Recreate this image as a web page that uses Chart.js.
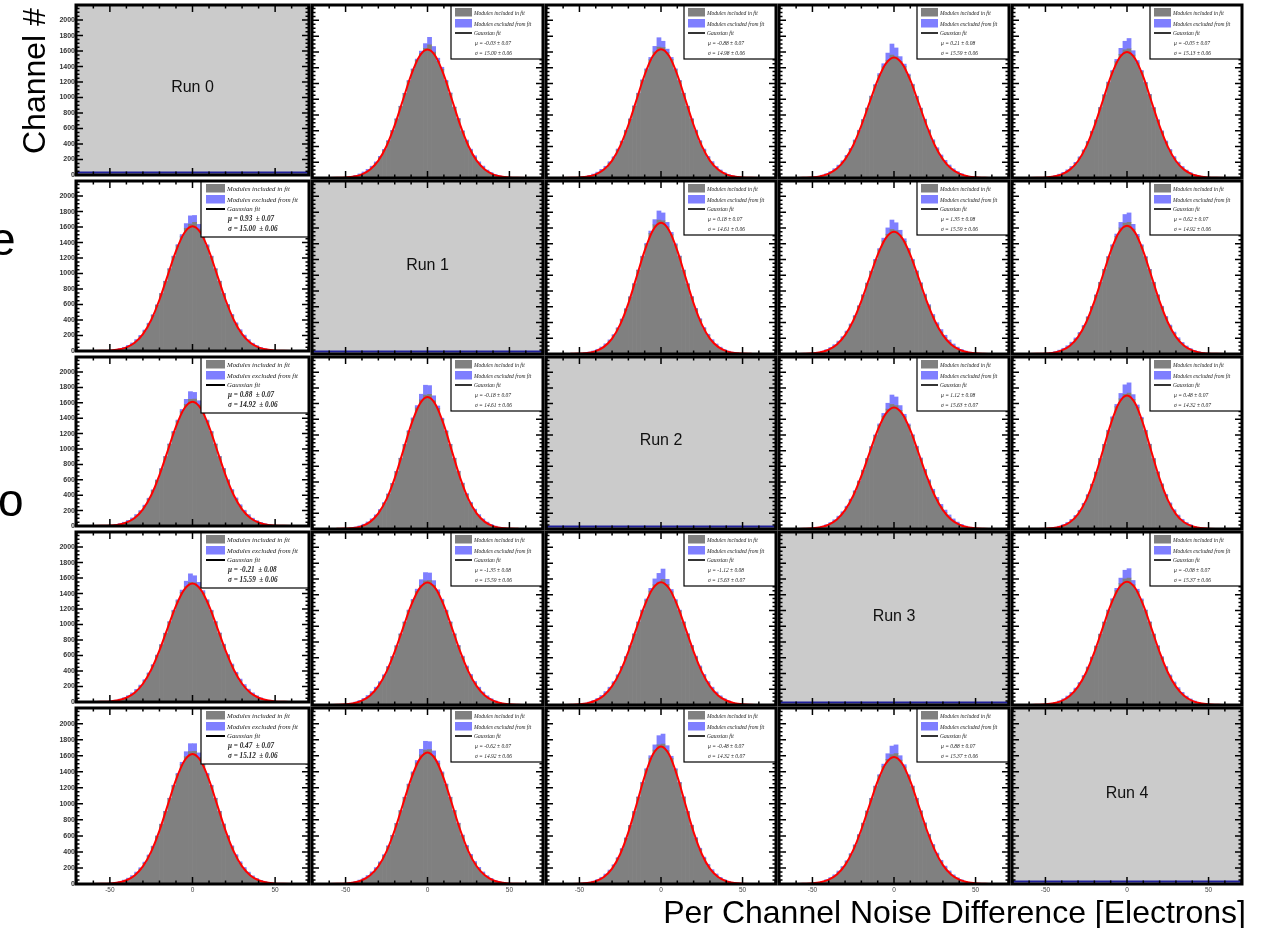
<!DOCTYPE html>
<html>
<head>
<meta charset="utf-8">
<script src="https://cdn.jsdelivr.net/npm/chart.js@4.4.1/dist/chart.umd.min.js"></script>
<style>
body { margin: 0; background: #fff; width: 1268px; height: 928px; overflow: hidden; position: relative; font-family: "Liberation Sans", Arial, sans-serif; }
canvas { position: absolute; }
.lbl { position: absolute; white-space: nowrap; color: #000; font-size: 32px; line-height: 32px; z-index: 10; }
</style>
</head>
<body>
<div class="lbl" style="left:18px;top:154px;transform-origin:0 0;transform:rotate(-90deg)">Channel #</div>
<div class="lbl" style="right:22px;top:896px">Per Channel Noise Difference [Electrons]</div>
<div class="lbl" style="left:-10px;top:216px;font-size:46px;line-height:46px">e</div>
<div class="lbl" style="left:-2px;top:477px;font-size:46px;line-height:46px">o</div>
<script>
// ---- data ----
const runNames = ['Run 0', 'Run 1', 'Run 2', 'Run 3', 'Run 4'];
const xTickLabels = [-50, 0, 50];
const yTickLabels = [0, 200, 400, 600, 800, 1000, 1200, 1400, 1600, 1800, 2000];
const binCenters = [-48.75,-46.25,-43.75,-41.25,-38.75,-36.25,-33.75,-31.25,-28.75,-26.25,-23.75,-21.25,-18.75,-16.25,-13.75,-11.25,-8.75,-6.25,-3.75,-1.25,
                    1.25,3.75,6.25,8.75,11.25,13.75,16.25,18.75,21.25,23.75,26.25,28.75,31.25,33.75,36.25,38.75,41.25,43.75,46.25,48.75];
const fitX = [-70,-65,-60,-55,-50,-45,-40,-35,-30,-25,-20,-15,-10,-5,0,5,10,15,20,25,30,35,40,45,50,55,60,65,70];

// row 0
const inc01 = [8,15,24,38,59,88,130,186,260,352,466,597,746,906,1070,1230,1374,1494,1580,1645,1690,1598,1480,1380,1228,1072,895,748,590,468,348,262,183,131,85,57,36,22,13,7];
const exc01 = [3,6,10,14,18,22,20,18,15,12,10,8,6,5,5,8,10,15,30,60,95,70,40,25,12,8,6,8,10,14,18,20,22,20,16,12,8,5,3,2];
const fit01 = [0,0,0,2,7,18,47,108,220,406,670,989,1306,1542,1630,1542,1306,989,670,406,220,108,47,18,7,2,0,0,0];
const inc02 = [9,14,23,38,58,90,127,188,255,356,460,600,745,910,1068,1236,1372,1500,1600,1660,1655,1590,1505,1372,1230,1070,905,745,598,462,352,256,188,128,88,58,37,23,14,8];
const exc02 = [2,5,8,12,16,20,22,18,14,12,9,7,6,6,8,10,14,30,70,120,80,45,25,14,8,6,6,8,10,12,15,18,20,18,14,10,7,5,3,2];
const fit02 = [0,0,0,2,7,18,47,108,221,407,672,992,1310,1547,1635,1547,1310,992,672,407,221,108,47,18,7,2,0,0,0];
const inc03 = [11,18,29,44,67,100,143,200,273,364,473,598,736,883,1032,1175,1305,1410,1495,1560,1540,1480,1415,1300,1180,1030,880,738,600,470,366,270,200,143,99,67,44,28,18,11];
const exc03 = [2,4,7,10,14,18,20,18,15,12,10,8,6,6,8,12,20,40,90,140,110,60,30,18,10,8,7,9,12,15,18,22,24,22,18,14,10,6,4,2];
const fit03 = [0,0,0,3,8,23,55,119,236,416,666,958,1242,1452,1530,1452,1242,958,666,416,236,119,55,23,8,3,0,0,0];
const inc04 = [8,14,23,37,57,86,127,183,255,346,457,587,733,890,1051,1208,1350,1475,1570,1625,1640,1560,1460,1350,1205,1055,888,732,588,456,346,254,182,128,86,57,36,23,14,8];
const exc04 = [2,5,8,12,15,18,20,16,14,12,9,7,5,5,7,10,15,30,75,110,130,55,30,15,9,6,6,8,10,13,16,18,20,18,15,11,7,5,3,2];
const fit04 = [0,0,0,2,6,18,46,106,216,398,658,971,1282,1514,1600,1514,1282,971,658,398,216,106,46,18,6,2,0,0,0];
// row 1
const inc10 = [8,14,23,37,58,86,128,184,257,348,460,590,738,896,1058,1216,1360,1478,1585,1640,1660,1575,1478,1356,1216,1058,896,737,591,460,348,256,184,128,86,58,37,23,14,8];
const exc10 = [2,5,8,11,15,18,20,18,14,11,9,7,5,5,6,9,14,25,60,105,90,60,30,15,9,6,6,8,10,13,16,19,21,19,15,11,8,5,3,2];
const fit10 = [0,0,0,2,6,18,47,106,217,401,662,977,1290,1523,1610,1523,1290,977,662,401,217,106,47,18,6,2,0,0,0];
const inc12 = [6,11,18,29,47,73,111,163,233,323,436,569,722,888,1061,1232,1390,1530,1640,1700,1690,1615,1515,1385,1235,1060,886,722,570,436,322,234,163,110,73,47,29,18,11,6];
const exc12 = [2,4,7,10,13,16,18,16,13,11,8,6,5,5,6,9,14,30,65,115,100,55,28,14,8,6,6,7,9,12,14,17,19,17,14,10,7,5,3,2];
const fit12 = [0,0,0,2,5,13,37,90,196,376,643,976,1312,1568,1665,1568,1312,976,643,376,196,90,37,13,5,2,0,0,0];
const inc13 = [11,18,29,45,68,101,145,203,277,369,479,606,746,895,1046,1191,1322,1435,1520,1580,1565,1510,1430,1322,1190,1046,895,748,610,482,372,280,206,148,103,69,46,29,18,11];
const exc13 = [2,4,7,10,14,17,19,17,14,12,9,7,6,6,7,10,16,35,80,120,100,60,32,18,12,10,10,12,16,20,25,30,32,30,24,18,12,8,5,3];
const fit13 = [0,0,0,3,9,23,56,121,239,422,674,970,1259,1471,1550,1471,1259,970,674,422,239,121,56,23,9,3,0,0,0];
const inc14 = [8,14,23,37,58,87,130,186,259,351,465,597,745,905,1069,1229,1373,1492,1600,1660,1670,1585,1490,1372,1228,1068,904,744,596,464,351,259,186,129,87,58,37,23,14,8];
const exc14 = [2,5,8,12,15,18,20,18,15,12,9,7,6,5,6,9,14,30,70,110,120,60,28,15,9,6,6,8,10,13,16,19,20,18,15,11,8,5,3,2];
const fit14 = [0,0,0,2,6,17,46,106,218,403,667,986,1303,1540,1628,1540,1303,986,667,403,218,106,46,17,6,2,0,0,0];
// row 2
const inc20 = [8,14,23,37,58,87,129,184,257,349,461,592,740,898,1061,1220,1362,1485,1580,1645,1650,1572,1482,1362,1220,1061,898,740,592,461,349,257,184,129,87,58,37,23,14,8];
const exc20 = [2,5,8,12,15,18,20,17,14,12,9,7,5,5,6,9,14,28,65,100,85,55,28,14,9,6,6,8,10,13,16,19,21,19,15,11,8,5,3,2];
const fit20 = [0,0,0,2,6,17,46,105,216,399,661,978,1292,1527,1615,1527,1292,978,661,399,216,105,46,17,6,2,0,0,0];
const inc21 = [6,11,18,30,48,74,112,165,236,327,441,576,730,899,1074,1247,1404,1545,1650,1710,1720,1640,1540,1400,1247,1075,898,731,577,441,327,236,165,112,74,48,30,18,11,6];
const exc21 = [2,4,7,10,13,16,18,16,13,11,8,6,5,5,6,9,14,30,70,125,110,60,30,14,8,6,6,7,9,12,14,17,19,17,14,10,7,5,3,2];
const fit21 = [0,0,0,2,5,13,37,91,199,381,650,987,1328,1587,1685,1587,1328,987,650,381,199,91,37,13,5,2,0,0,0];
const inc23 = [11,18,29,45,68,101,145,203,277,369,479,606,746,895,1046,1191,1325,1440,1530,1590,1575,1515,1432,1322,1192,1047,896,748,610,484,375,282,208,150,104,70,46,29,18,11];
const exc23 = [2,4,7,10,14,17,19,17,14,12,9,7,6,6,7,10,16,35,75,120,110,60,32,18,12,10,11,14,18,23,28,32,34,30,25,18,12,8,5,3];
const fit23 = [0,0,0,3,9,24,57,122,241,424,677,973,1261,1472,1550,1472,1261,973,677,424,241,122,57,24,9,3,0,0,0];
const inc24 = [5,9,16,27,44,69,106,158,227,318,431,567,723,895,1075,1252,1418,1560,1660,1720,1735,1655,1555,1412,1252,1076,894,724,568,430,318,228,158,106,69,44,27,16,9,5];
const exc24 = [2,4,6,9,12,15,17,15,12,10,8,6,5,5,6,9,14,30,70,120,130,60,28,14,8,6,6,7,9,12,15,18,20,18,14,10,7,5,3,2];
const fit24 = [0,0,0,1,4,12,35,86,190,372,643,985,1336,1604,1705,1604,1336,985,643,372,190,86,35,12,4,1,0,0,0];
// row 3
const inc30 = [11,18,29,44,67,100,143,200,273,364,473,598,736,883,1032,1175,1305,1415,1490,1545,1540,1490,1408,1305,1175,1032,884,737,600,474,365,274,201,144,100,67,44,29,18,11];
const exc30 = [3,5,8,11,15,18,20,18,15,12,10,8,6,6,7,10,15,30,70,110,90,55,30,16,10,8,8,10,13,16,19,22,24,22,18,13,9,6,4,2];
const fit30 = [0,0,0,3,8,23,55,119,236,416,666,958,1242,1452,1530,1452,1242,958,666,416,236,119,55,23,8,3,0,0,0];
const inc31 = [11,18,29,45,68,101,146,204,278,370,480,608,748,898,1049,1195,1326,1440,1520,1575,1580,1520,1432,1326,1194,1049,898,748,608,480,370,278,204,145,101,68,45,29,18,11];
const exc31 = [3,5,8,12,16,20,24,22,18,14,10,8,6,6,7,10,15,30,70,105,95,58,30,16,10,7,7,9,12,15,18,20,22,20,16,12,8,5,3,2];
const fit31 = [0,0,0,3,9,23,56,121,239,423,676,973,1263,1476,1555,1476,1263,973,676,423,239,121,56,23,9,3,0,0,0];
const inc32 = [11,18,29,45,68,101,146,204,278,370,480,608,748,898,1049,1195,1330,1445,1525,1560,1595,1530,1436,1322,1194,1049,898,748,608,480,370,278,204,145,101,68,45,29,18,11];
const exc32 = [3,5,8,12,16,20,24,22,18,14,10,8,6,6,7,10,15,35,75,110,130,65,30,16,10,7,7,9,12,15,18,20,22,20,16,12,8,5,3,2];
const fit32 = [0,0,0,3,9,24,57,122,240,424,678,975,1265,1478,1558,1478,1265,975,678,424,240,122,57,24,9,3,0,0,0];
const inc34 = [10,17,27,43,65,97,141,198,272,364,474,602,744,895,1049,1197,1335,1450,1540,1600,1610,1525,1441,1331,1197,1049,895,744,602,474,364,272,198,141,97,65,43,27,17,10];
const exc34 = [2,4,7,10,14,17,19,17,14,11,9,7,6,5,6,9,14,30,70,110,120,55,28,15,9,7,7,9,11,14,17,20,22,20,16,12,8,5,3,2];
const fit34 = [0,0,0,3,8,22,53,117,233,416,671,972,1266,1484,1565,1484,1266,972,671,416,233,117,53,22,8,3,0,0,0];
// row 4
const inc40 = [8,14,23,37,58,87,129,185,258,350,463,594,742,901,1064,1223,1366,1490,1590,1650,1655,1580,1488,1366,1223,1064,901,742,594,463,350,258,185,129,87,58,37,23,14,8];
const exc40 = [2,5,8,12,15,18,20,18,15,12,9,7,5,5,6,9,14,28,60,100,95,55,28,14,9,6,6,8,10,13,16,19,21,19,15,11,8,5,3,2];
const fit40 = [0,0,0,2,6,18,47,107,219,403,666,983,1298,1533,1620,1533,1298,983,666,403,219,107,47,18,6,2,0,0,0];
const inc41 = [8,14,23,37,59,88,131,187,261,354,469,601,751,912,1077,1238,1385,1510,1610,1670,1675,1600,1505,1383,1238,1077,912,751,601,469,354,261,187,131,88,59,37,23,14,8];
const exc41 = [2,5,8,12,15,18,20,18,15,12,9,7,5,5,6,9,14,30,70,110,100,60,30,15,9,6,6,8,10,13,16,19,21,19,15,11,8,5,3,2];
const fit41 = [0,0,0,2,6,18,47,108,221,407,673,994,1312,1551,1640,1551,1312,994,673,407,221,108,47,18,6,2,0,0,0];
const inc42 = [5,9,16,27,44,69,107,159,228,320,434,570,727,900,1081,1260,1425,1570,1670,1735,1745,1665,1565,1425,1260,1082,900,727,570,434,320,228,159,107,69,44,27,16,9,5];
const exc42 = [2,4,6,9,12,15,17,15,12,10,8,6,5,5,6,9,14,30,65,115,125,60,28,14,8,6,6,7,9,12,15,18,20,18,14,10,7,5,3,2];
const fit42 = [0,0,0,1,4,12,35,87,191,374,647,991,1344,1614,1715,1614,1344,991,647,374,191,87,35,12,4,1,0,0,0];
const inc43 = [10,17,27,44,66,98,143,201,276,369,480,610,754,907,1063,1213,1350,1465,1555,1615,1625,1545,1460,1348,1213,1063,907,754,610,480,369,276,201,143,98,66,44,27,17,10];
const exc43 = [2,4,7,10,14,17,19,17,14,11,9,7,6,5,6,9,14,30,70,105,110,55,28,15,9,7,7,9,11,14,17,20,22,20,16,12,8,5,3,2];
const fit43 = [0,0,0,3,8,22,54,119,236,422,680,984,1282,1503,1585,1503,1282,984,680,422,236,119,54,22,8,3,0,0,0];

// which panel uses which arrays
const offDiagonal = [[0,1],[0,2],[0,3],[0,4],[1,0],[1,2],[1,3],[1,4],[2,0],[2,1],[2,3],[2,4],[3,0],[3,1],[3,2],[3,4],[4,0],[4,1],[4,2],[4,3]];
const included = [inc01,inc02,inc03,inc04,inc10,inc12,inc13,inc14,inc20,inc21,inc23,inc24,inc30,inc31,inc32,inc34,inc40,inc41,inc42,inc43];
const excluded = [exc01,exc02,exc03,exc04,exc10,exc12,exc13,exc14,exc20,exc21,exc23,exc24,exc30,exc31,exc32,exc34,exc40,exc41,exc42,exc43];
const fitCurves = [fit01,fit02,fit03,fit04,fit10,fit12,fit13,fit14,fit20,fit21,fit23,fit24,fit30,fit31,fit32,fit34,fit40,fit41,fit42,fit43];
const muLabels = ['μ = -0.03 ± 0.07','μ = -0.88 ± 0.07','μ = 0.21 ± 0.08','μ = -0.05 ± 0.07',
                  'μ = 0.93  ± 0.07','μ = 0.18 ± 0.07','μ = 1.35 ± 0.08','μ = 0.62 ± 0.07',
                  'μ = 0.88  ± 0.07','μ = -0.18 ± 0.07','μ = 1.12 ± 0.08','μ = 0.48 ± 0.07',
                  'μ = -0.21  ± 0.08','μ = -1.35 ± 0.08','μ = -1.12 ± 0.08','μ = -0.08 ± 0.07',
                  'μ = 0.47  ± 0.07','μ = -0.62 ± 0.07','μ = -0.48 ± 0.07','μ = 0.88 ± 0.07'];
const sigmaLabels = ['σ = 15.00 ± 0.06','σ = 14.98 ± 0.06','σ = 15.59 ± 0.06','σ = 15.13 ± 0.06',
                     'σ = 15.00  ± 0.06','σ = 14.61 ± 0.06','σ = 15.59 ± 0.06','σ = 14.92 ± 0.06',
                     'σ = 14.92  ± 0.06','σ = 14.61 ± 0.06','σ = 15.63 ± 0.07','σ = 14.32 ± 0.07',
                     'σ = 15.59  ± 0.06','σ = 15.59 ± 0.06','σ = 15.63 ± 0.07','σ = 15.37 ± 0.06',
                     'σ = 15.12  ± 0.06','σ = 14.92 ± 0.06','σ = 14.32 ± 0.07','σ = 15.37 ± 0.06'];

const histGray = '#808080';
const histBlue = '#7f7fff';
const fitRed = '#ff0000';
const sansFont = '"Liberation Sans", Arial, sans-serif';
const serifFont = '"Liberation Serif", "Times New Roman", serif';

// panel grid edges in page pixels
const colEdge = k => Math.round(76 + 233.25 * k);
const rowEdge = k => Math.round(5 + 175.75 * k);

function drawLegend(ctx, a, big, mu, sigma) {
    const bw = big ? 108 : 92, bh = big ? 56 : 54;
    const bx = a.right - bw, by = a.top;
    const sx = bx + (big ? 5 : 4), sw = big ? 19 : 17;
    const tx = bx + (big ? 26 : 23);
    const f = big ? 6.8 : 5.5;
    ctx.fillStyle = '#fff';
    ctx.fillRect(bx, by, bw, bh);
    ctx.strokeStyle = '#000';
    ctx.lineWidth = 1.2;
    ctx.strokeRect(bx, by, bw, bh);
    ctx.fillStyle = histGray;
    ctx.fillRect(sx, by + 3, sw, 8.5);
    ctx.fillStyle = histBlue;
    ctx.fillRect(sx, by + 14, sw, 8.5);
    ctx.lineWidth = big ? 2 : 1.6;
    ctx.beginPath();
    ctx.moveTo(sx, by + 28);
    ctx.lineTo(sx + sw, by + 28);
    ctx.stroke();
    ctx.fillStyle = '#222';
    ctx.textAlign = 'left';
    ctx.textBaseline = 'alphabetic';
    ctx.font = 'italic ' + f + 'px ' + serifFont;
    ctx.fillText('Modules included in fit', tx, by + 9.5);
    ctx.fillText('Modules excluded from fit', tx, by + 20.5);
    ctx.fillText('Gaussian fit', tx, by + 30);
    ctx.font = (big ? 'italic bold 7.2px ' : 'italic 5.5px ') + serifFont;
    ctx.fillText(mu, tx + 1, by + 40);
    ctx.fillText(sigma, tx + 1, by + 50);
}

const panelPlugin = {
    id: 'panel',
    beforeDraw(chart, args, o) {
        const ctx = chart.ctx, a = chart.chartArea;
        ctx.save();
        // hide the lower half of the previous row's "0" label
        if (o.col === 0) {
            ctx.fillStyle = '#fff';
            ctx.fillRect(a.left - 24, o.padT - 1, 22, chart.height);
        }
        if (o.run) {
            ctx.fillStyle = '#cbcbcb';
            ctx.fillRect(a.left, a.top, a.right - a.left, a.bottom - a.top);
            ctx.fillStyle = '#111';
            ctx.font = '16px ' + sansFont;
            ctx.textAlign = 'center';
            ctx.textBaseline = 'middle';
            ctx.fillText(o.run, (a.left + a.right) / 2, (a.top + a.bottom) / 2 - 2);
            ctx.strokeStyle = '#1f1f9a';
            ctx.lineWidth = 2;
            ctx.beginPath();
            ctx.moveTo(a.left, a.bottom - 2.5);
            ctx.lineTo(a.right, a.bottom - 2.5);
            ctx.stroke();
        }
        ctx.restore();
    },
    afterDraw(chart, args, o) {
        const ctx = chart.ctx, a = chart.chartArea;
        const xs = chart.scales.x, ys = chart.scales.y;
        ctx.save();
        // inward tick marks on all four sides
        ctx.strokeStyle = '#000';
        ctx.lineWidth = 1.5;
        ctx.beginPath();
        for (let v = -70; v <= 70; v += 10) {
            const px = xs.getPixelForValue(v);
            const len = v % 50 === 0 ? 7 : 3.5;
            ctx.moveTo(px, a.bottom); ctx.lineTo(px, a.bottom - len);
            ctx.moveTo(px, a.top); ctx.lineTo(px, a.top + len);
        }
        for (let v = 0; v <= 2150; v += 50) {
            const py = ys.getPixelForValue(v);
            const len = v % 200 === 0 ? 7 : 3.5;
            ctx.moveTo(a.left, py); ctx.lineTo(a.left + len, py);
            ctx.moveTo(a.right, py); ctx.lineTo(a.right - len, py);
        }
        ctx.stroke();
        if (o.mu) drawLegend(ctx, a, o.col === 0, o.mu, o.sigma);
        // thick frame
        ctx.strokeStyle = '#000';
        ctx.lineWidth = 3;
        ctx.strokeRect(a.left, a.top, a.right - a.left, a.bottom - a.top);
        ctx.restore();
    }
};

function addPanel(r, c) {
    const L = colEdge(c), R = colEdge(c + 1), T = rowEdge(r), B = rowEdge(r + 1);
    const padL = c === 0 ? 40 : 3, padR = 3, padT = 3;
    const padB = r === 4 ? 16 : (c === 0 ? 6 : 3);
    const w = R - L + padL + padR, h = B - T + padT + padB;
    const cv = document.createElement('canvas');
    cv.width = w; cv.height = h;
    cv.style.left = (L - padL) + 'px';
    cv.style.top = (T - padT) + 'px';
    cv.style.width = w + 'px';
    cv.style.height = h + 'px';
    document.body.appendChild(cv);

    const k = offDiagonal.findIndex(p => p[0] === r && p[1] === c);
    let datasets = [];
    if (k >= 0) {
        datasets = [
            { type: 'line', data: fitX.map((x, i) => ({ x: x, y: fitCurves[k][i] })),
              borderColor: fitRed, borderWidth: 2, pointRadius: 0, cubicInterpolationMode: 'monotone',
              stack: 'fit', order: 0 },
            { type: 'bar', data: binCenters.map((x, i) => ({ x: x, y: included[k][i] })),
              backgroundColor: histGray, borderWidth: 0, barPercentage: 1, categoryPercentage: 1,
              grouped: false, stack: 'hist', order: 1 },
            { type: 'bar', data: binCenters.map((x, i) => ({ x: x, y: excluded[k][i] })),
              backgroundColor: histBlue, borderWidth: 0, barPercentage: 1, categoryPercentage: 1,
              grouped: false, stack: 'hist', order: 2 }
        ];
    }

    new Chart(cv, {
        type: 'bar',
        data: { datasets: datasets },
        options: {
            responsive: false,
            animation: false,
            devicePixelRatio: 1,
            events: [],
            layout: { padding: { left: c === 0 ? 0 : padL, right: padR, top: padT, bottom: r === 4 ? 0 : padB } },
            scales: {
                x: {
                    type: 'linear', min: -70.5, max: 70.5, offset: false, stacked: true,
                    display: r === 4,
                    afterBuildTicks: s => { s.ticks = xTickLabels.map(v => ({ value: v })); },
                    afterFit: s => { s.height = padB; s.paddingLeft = 0; s.paddingRight = 0; },
                    grid: { display: false, drawTicks: false, offset: false },
                    border: { display: false },
                    ticks: { font: { size: 6.5, family: sansFont }, color: '#444', padding: 2, maxRotation: 0, autoSkip: false,
                             callback: v => String(v) }
                },
                y: {
                    type: 'linear', min: 0, max: 2195, stacked: true,
                    display: c === 0,
                    afterBuildTicks: s => { s.ticks = yTickLabels.map(v => ({ value: v })); },
                    afterFit: s => { s.width = padL; s.paddingTop = 0; s.paddingBottom = 0; },
                    grid: { display: false, drawTicks: false },
                    border: { display: false },
                    ticks: { font: { size: 7, weight: 'bold', family: sansFont }, color: '#333', padding: 1, autoSkip: false,
                             callback: v => String(v) }
                }
            },
            plugins: {
                legend: { display: false },
                tooltip: { enabled: false },
                panel: {
                    col: c, padT: padT,
                    run: r === c ? runNames[r] : null,
                    mu: k >= 0 ? muLabels[k] : null,
                    sigma: k >= 0 ? sigmaLabels[k] : null
                }
            }
        },
        plugins: [panelPlugin]
    });
}

for (let r = 0; r < 5; r++) {
    for (let c = 0; c < 5; c++) addPanel(r, c);
}
</script>
</body>
</html>
